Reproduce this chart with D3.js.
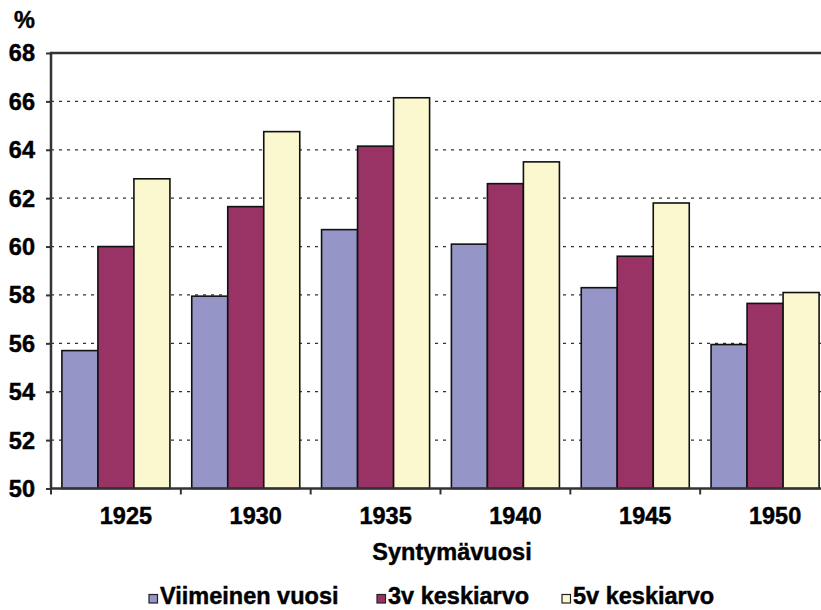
<!DOCTYPE html>
<html>
<head>
<meta charset="utf-8">
<script src="https://cdn.jsdelivr.net/npm/d3@7"></script>
<style>
    body { margin: 0; background: #fff; }
    text { font-family: "Liberation Sans", Arial, sans-serif; font-weight: bold; fill: #000; stroke: #000; stroke-width: 0.45px; }
</style>
</head>
<body>
<div id="chart"></div>
<script>
const years = ["1925", "1930", "1935", "1940", "1945", "1950"];
const seriesNames = ["Viimeinen vuosi", "3v keskiarvo", "5v keskiarvo"];
const viimeinenVuosi = [55.7, 57.95, 60.7, 60.1, 58.3, 55.95];
const keskiarvo3v = [60.0, 61.65, 64.15, 62.6, 59.6, 57.65];
const keskiarvo5v = [62.8, 64.75, 66.15, 63.5, 61.8, 58.1];
const yTicks = [50, 52, 54, 56, 58, 60, 62, 64, 66, 68];
const colors = ["#9595c8", "#993366", "#fbf8cf"];

const width = 821, height = 610;
const margin = { left: 51, top: 53, plotWidth: 779, plotHeight: 435.5 };
const fontSize = "23.5px";
const legendX = [149, 377, 562];

const table = years.map((y, i) => ({
    year: y,
    values: [viimeinenVuosi[i], keskiarvo3v[i], keskiarvo5v[i]]
}));

const svg = d3.select("#chart").append("svg")
    .attr("width", width)
    .attr("height", height);

const x0 = d3.scaleBand()
    .domain(years)
    .range([margin.left, margin.left + margin.plotWidth])
    .paddingInner(0.168)
    .paddingOuter(0.084);

const x1 = d3.scaleBand()
    .domain(d3.range(seriesNames.length))
    .range([0, x0.bandwidth()]);

const y = d3.scaleLinear()
    .domain([50, 68])
    .range([margin.top + margin.plotHeight, margin.top]);

const x0Left = margin.left, x0Right = margin.left + margin.plotWidth;

// dotted gridlines
svg.append("g")
    .selectAll("line")
    .data(yTicks.filter(t => t > 50 && t < 68))
    .enter().append("line")
    .attr("x1", x0Left)
    .attr("x2", x0Right)
    .attr("y1", d => y(d))
    .attr("y2", d => y(d))
    .style("stroke", "#333")
    .style("stroke-width", 1.3)
    .style("stroke-dasharray", "3,5");

// bars
const groups = svg.append("g")
    .selectAll("g")
    .data(table)
    .enter().append("g")
    .attr("transform", d => `translate(${x0(d.year)},0)`);

groups.selectAll("rect")
    .data(d => d.values.map((v, k) => ({ k, v })))
    .enter().append("rect")
    .attr("x", d => x1(d.k))
    .attr("width", x1.bandwidth())
    .attr("y", d => y(d.v))
    .attr("height", d => y(50) - y(d.v))
    .style("fill", d => colors[d.k])
    .style("stroke", "#111")
    .style("stroke-width", 1.6);

// plot frame
svg.append("rect")
    .attr("x", x0Left)
    .attr("y", y(68))
    .attr("width", margin.plotWidth)
    .attr("height", y(50) - y(68))
    .style("fill", "none")
    .style("stroke", "#333")
    .style("stroke-width", 2.5);

// y axis ticks
const yAxis = svg.append("g")
    .attr("transform", `translate(${margin.left},0)`)
    .call(d3.axisLeft(y).tickValues(yTicks).tickSize(5).tickFormat(""));
yAxis.select(".domain").remove();
yAxis.selectAll(".tick line").style("stroke", "#333").style("stroke-width", 2);

svg.append("g")
    .selectAll("text")
    .data(yTicks)
    .enter().append("text")
    .attr("x", 35)
    .attr("y", d => y(d))
    .attr("dy", "0.36em")
    .attr("text-anchor", "end")
    .style("font-size", fontSize)
    .text(d => d);

svg.append("text")
    .attr("x", 35)
    .attr("y", 28)
    .attr("text-anchor", "end")
    .style("font-size", fontSize)
    .text("%");

// x axis ticks at category boundaries
const step = x0.step();
svg.append("g")
    .selectAll("line")
    .data(d3.range(years.length + 1))
    .enter().append("line")
    .attr("x1", i => x0Left + i * step)
    .attr("x2", i => x0Left + i * step)
    .attr("y1", y(50))
    .attr("y2", y(50) + 6)
    .style("stroke", "#333")
    .style("stroke-width", 2);

svg.append("g")
    .selectAll("text")
    .data(years)
    .enter().append("text")
    .attr("x", d => x0(d) + x0.bandwidth() / 2 + 10)
    .attr("y", 524)
    .attr("text-anchor", "middle")
    .style("font-size", fontSize)
    .text(d => d);

svg.append("text")
    .attr("x", 452)
    .attr("y", 560)
    .attr("text-anchor", "middle")
    .style("font-size", fontSize)
    .text("Syntymävuosi");

// legend
const legend = svg.append("g")
    .selectAll("g")
    .data(seriesNames)
    .enter().append("g")
    .attr("transform", (d, k) => `translate(${legendX[k]},0)`);

legend.append("rect")
    .attr("x", 0)
    .attr("y", 594.5)
    .attr("width", 8.5)
    .attr("height", 8.5)
    .style("fill", (d, k) => colors[k])
    .style("stroke", "#222")
    .style("stroke-width", 1.2);

legend.append("text")
    .attr("x", 11)
    .attr("y", 604)
    .style("font-size", fontSize)
    .text(d => d);
</script>
</body>
</html>
